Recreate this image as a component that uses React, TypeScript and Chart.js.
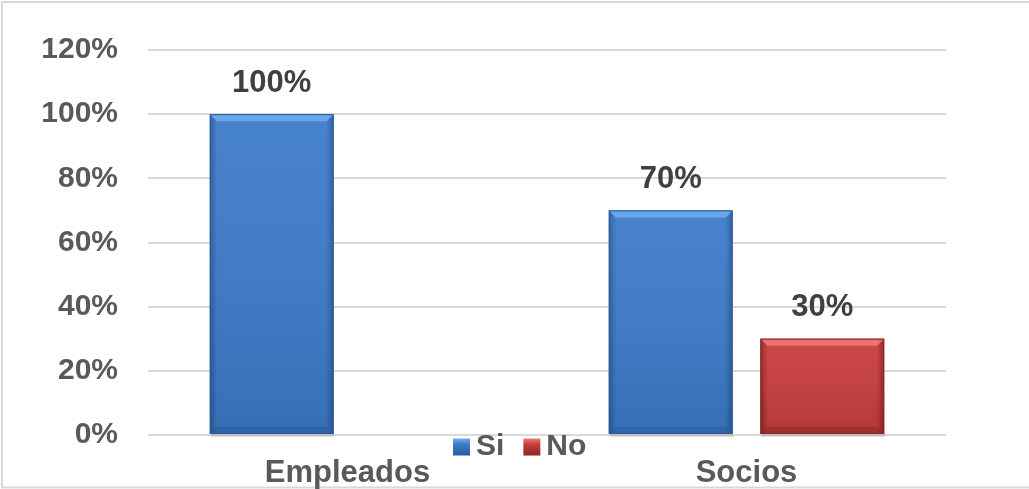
import React, { useEffect, useRef } from 'react';
import { Chart, registerables } from 'chart.js';

Chart.register(...registerables);

const categories = ['Empleados', 'Socios'];
const seriesNames = ['Si', 'No'];
const siValues: (number | null)[] = [100, 70];
const noValues: (number | null)[] = [null, 30];
const yMax = 120;
const yStep = 20;

const FONT = "Arial, 'Liberation Sans', sans-serif";

const palettes = [
  { base: '#3d7bca', light: '#72aef0', dark: '#2a5a98' },
  { base: '#c83d3d', light: '#ee7a7a', dark: '#8c2525' },
];

const bevelPlugin = {
  id: 'bevel',
  afterDatasetsDraw(chart: any) {
    const ctx = chart.ctx;
    chart.data.datasets.forEach((ds: any, di: number) => {
      const meta = chart.getDatasetMeta(di);
      const p = palettes[di];
      meta.data.forEach((bar: any, i: number) => {
        const v = ds.data[i];
        if (v === null || v === undefined) return;
        const l = bar.x - bar.width / 2;
        const r = bar.x + bar.width / 2;
        const t = bar.y;
        const b = bar.base;
        const bev = 7;
        ctx.save();
        ctx.fillStyle = 'rgba(0,0,0,0.12)';
        ctx.fillRect(l + 1, b, r - l, 3);
        const g = ctx.createLinearGradient(l, 0, r, 0);
        g.addColorStop(0, p.dark);
        g.addColorStop(0.06, p.base);
        g.addColorStop(0.94, p.base);
        g.addColorStop(1, p.dark);
        ctx.fillStyle = g;
        ctx.fillRect(l, t, r - l, b - t);
        const gv = ctx.createLinearGradient(0, t, 0, b);
        gv.addColorStop(0, 'rgba(255,255,255,0.05)');
        gv.addColorStop(1, 'rgba(0,0,0,0.10)');
        ctx.fillStyle = gv;
        ctx.fillRect(l, t, r - l, b - t);
        ctx.beginPath();
        ctx.moveTo(l, t);
        ctx.lineTo(r, t);
        ctx.lineTo(r - bev, t + bev);
        ctx.lineTo(l + bev, t + bev);
        ctx.closePath();
        ctx.fillStyle = p.light;
        ctx.globalAlpha = 0.85;
        ctx.fill();
        ctx.beginPath();
        ctx.moveTo(l, b);
        ctx.lineTo(r, b);
        ctx.lineTo(r - bev, b - bev);
        ctx.lineTo(l + bev, b - bev);
        ctx.closePath();
        ctx.fillStyle = p.dark;
        ctx.globalAlpha = 0.5;
        ctx.fill();
        ctx.globalAlpha = 1;
        ctx.strokeStyle = p.dark;
        ctx.lineWidth = 1;
        ctx.strokeRect(l + 0.5, t + 0.5, r - l - 1, b - t - 1);
        ctx.restore();
      });
    });
  },
};

const labelPlugin = {
  id: 'valueLabels',
  afterDraw(chart: any) {
    const ctx = chart.ctx;
    ctx.save();
    ctx.font = `bold 31px ${FONT}`;
    ctx.fillStyle = '#404040';
    ctx.textAlign = 'center';
    ctx.textBaseline = 'middle';
    chart.data.datasets.forEach((ds: any, di: number) => {
      const meta = chart.getDatasetMeta(di);
      meta.data.forEach((bar: any, i: number) => {
        const v = ds.data[i];
        if (v === null || v === undefined) return;
        ctx.fillText(`${v}%`, bar.x, bar.y - 31);
      });
    });
    ctx.restore();
  },
};

const legendPlugin = {
  id: 'customLegend',
  afterDraw(chart: any) {
    const ctx = chart.ctx;
    ctx.save();
    ctx.font = `bold 30px ${FONT}`;
    ctx.textBaseline = 'middle';
    ctx.textAlign = 'left';
    let x = 453;
    const cy = 447;
    seriesNames.forEach((name, i) => {
      const p = palettes[i];
      const s = 17;
      const g = ctx.createLinearGradient(0, cy - s / 2, 0, cy + s / 2);
      g.addColorStop(0, p.light);
      g.addColorStop(0.35, p.base);
      g.addColorStop(1, p.dark);
      ctx.fillStyle = g;
      ctx.fillRect(x, cy - s / 2, s, s);
      ctx.fillStyle = '#595959';
      ctx.fillText(name, x + s + 6, cy);
      x += s + 6 + ctx.measureText(name).width + 19;
    });
    ctx.restore();
  },
};

const borderPlugin = {
  id: 'outerBorder',
  beforeDraw(chart: any) {
    const ctx = chart.ctx;
    ctx.save();
    ctx.fillStyle = '#ffffff';
    ctx.fillRect(0, 0, chart.width, chart.height);
    ctx.strokeStyle = '#d9d9d9';
    ctx.lineWidth = 2;
    ctx.strokeRect(2, 2, chart.width + 20, chart.height - 3.5);
    ctx.restore();
  },
};

export default function App() {
  const ref = useRef<HTMLCanvasElement | null>(null);

  useEffect(() => {
    if (!ref.current) return;
    const chart = new Chart(ref.current, {
      type: 'bar',
      data: {
        labels: categories,
        datasets: [
          { label: seriesNames[0], data: siValues, backgroundColor: palettes[0].base },
          { label: seriesNames[1], data: noValues, backgroundColor: palettes[1].base },
        ],
      },
      options: {
        animation: false,
        responsive: false,
        maintainAspectRatio: false,
        layout: { padding: { left: 0, right: 83, top: 50, bottom: 0 } },
        datasets: {
          bar: { categoryPercentage: 0.76, barPercentage: 0.816 },
        },
        plugins: {
          legend: { display: false },
          tooltip: { enabled: false },
        },
        scales: {
          x: {
            grid: { display: false, drawTicks: false },
            border: { display: false },
            ticks: {
              padding: 20,
              color: '#595959',
              font: { family: FONT, size: 31, weight: 'bold' },
            },
            afterFit(scale: any) {
              scale.height = 54;
            },
          },
          y: {
            min: 0,
            max: yMax,
            grid: { color: '#d9d9d9', lineWidth: 2, drawTicks: false },
            border: { display: false },
            ticks: {
              stepSize: yStep,
              padding: 30,
              color: '#595959',
              font: { family: FONT, size: 30, weight: 'bold' },
              callback: (v: any) => `${v}%`,
            },
            afterFit(scale: any) {
              scale.width = 148;
            },
          },
        },
      } as any,
      plugins: [borderPlugin, bevelPlugin, labelPlugin, legendPlugin],
    });
    return () => chart.destroy();
  }, []);

  return (
    <div style={{ position: 'fixed', left: 0, top: 0, width: 1029, height: 489, background: '#fff' }}>
      <canvas ref={ref} width={1029} height={489} style={{ width: 1029, height: 489, display: 'block' }} />
    </div>
  );
}
